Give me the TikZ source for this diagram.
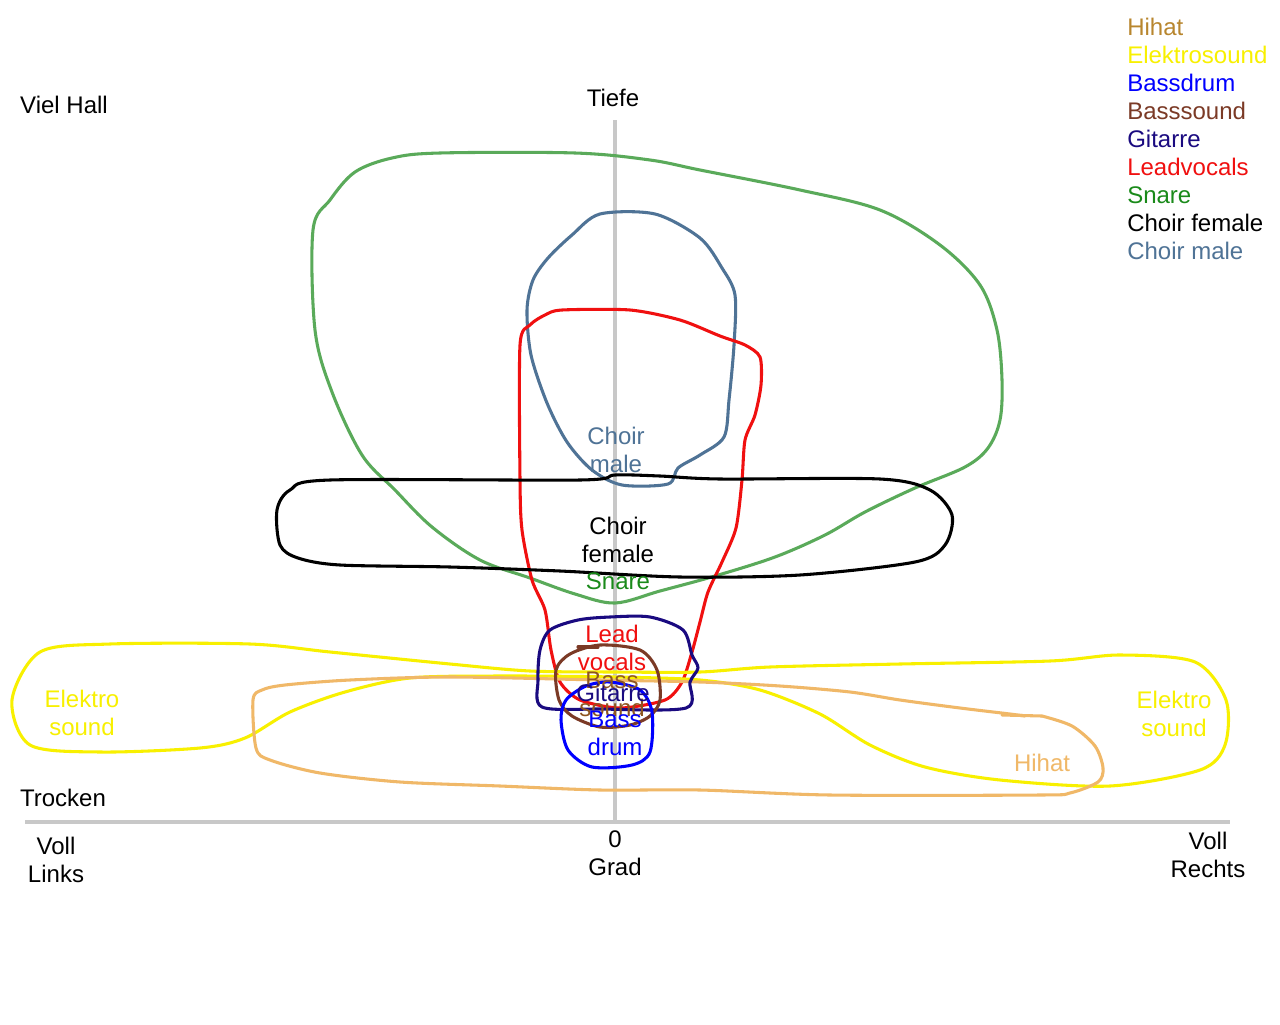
\documentclass[tikz,border=0pt]{standalone}
\usepackage{fontspec}
\setmainfont{Liberation Sans}
\definecolor{cHihat}{HTML}{B8862E}
\definecolor{cHihatL}{HTML}{F0B868}
\definecolor{cElektro}{HTML}{F8F000}
\definecolor{cBassdrum}{HTML}{0000FF}
\definecolor{cBasssound}{HTML}{7B3A26}
\definecolor{cGitarre}{HTML}{1A0A80}
\definecolor{cLead}{HTML}{F01010}
\definecolor{cSnare}{HTML}{1A8A1A}
\definecolor{cSnareL}{HTML}{5AAA5A}
\definecolor{cMale}{HTML}{4F7396}
\definecolor{cAxis}{HTML}{C8C8C8}
\begin{document}
\begin{tikzpicture}[x=0.75pt,y=-0.75pt,
  lbl/.style={inner sep=0pt,align=center,font=\fontsize{18}{21}\selectfont},
  leg/.style={inner sep=0pt,anchor=west,font=\fontsize{18}{21}\selectfont},
  blob/.style={line width=2.3pt,line join=round,line cap=round}]
\useasboundingbox[fill=white] (0,0) rectangle (1280,1024);
% axes
\draw[cAxis,line width=3pt] (615,120) -- (615,822);
\draw[cAxis,line width=3pt] (25,822) -- (1230,822);
% Snare (green)
\draw[blob,cSnareL] plot[smooth cycle,tension=0.55] coordinates {
 (440,153) (575,153) (650,160) (700,170) (800,190) (880,210) (940,245) (980,285)
 (997,330) (1002,380) (1000,420) (988,448) (965,467) (915,488) (865,512)
 (825,535) (775,557) (715,576) (660,591) (615,603) (575,594) (530,578)
 (480,560) (432,527) (395,490) (362,455) (332,392) (315,330) (313,230)
 (330,200) (355,172) (392,158)};
% Choir male
\draw[blob,cMale] plot[smooth cycle,tension=0.5] coordinates {
 (600,214) (655,214) (700,238) (722,268) (735,295) (734,345) (729,400)
 (724,437) (700,455) (678,468) (668,484) (622,485) (592,470) (567,442)
 (547,403) (531,355) (527,310) (533,280) (548,258) (572,235)};
% Leadvocals
\draw[blob,cLead] plot[smooth cycle,tension=0.45] coordinates {
 (562,310) (630,310) (680,320) (720,336) (745,345) (760,357) (761,385)
 (755,415) (745,440) (742,480) (736,528) (722,562) (708,592) (700,622)
 (692,652) (682,682) (665,700) (620,708) (580,700) (560,682) (551,650)
 (545,610) (532,580) (522,530) (520,480) (520,345) (530,325) (545,315)};
% Choir female
\draw[blob,black] plot[smooth cycle,tension=0.5] coordinates {
 (330,480) (580,480) (615,475) (660,476) (720,479) (880,479) (930,490)
 (952,515) (945,545) (915,562) (800,575) (680,577) (560,571) (450,567)
 (340,565) (298,558) (280,545) (277,510) (290,490)};
% Elektrosound (yellow)
\draw[blob,cElektro] plot[smooth cycle,tension=0.5] coordinates {
 (12,700) (40,652) (110,644) (250,644) (330,652) (450,664) (530,671)
 (615,672) (700,672) (770,667) (900,664) (1050,661) (1120,655) (1195,662)
 (1226,700) (1225,745) (1200,770) (1110,786) (1000,780) (925,767)
 (870,745) (820,714) (760,690) (700,680) (615,677) (500,676) (410,678)
 (345,692) (290,712) (245,738) (200,748) (100,752) (30,745)};
% Hihat
\draw[blob,cHihatL] plot[smooth,tension=0.5] coordinates {
 (1042,716) (1072,726) (1095,746) (1103,768) (1098,782) (1070,793)
 (1040,795) (830,795) (700,790) (600,790) (500,786) (400,782) (320,773)
 (270,760) (256,748) (253,700) (262,690) (285,685) (350,680) (450,677)
 (600,680) (700,682) (780,686) (850,692) (900,700) (960,708) (1010,714) (1025,716)};
\draw[blob,cHihatL] (1002,715) -- (1042,716);
% Gitarre
\draw[blob,cGitarre] plot[smooth cycle,tension=0.5] coordinates {
 (610,617) (650,617) (683,630) (692,655) (698,668) (690,682) (686,708)
 (600,709) (542,707) (538,680) (540,650) (550,630) (578,620)};
% Basssound
\draw[blob,cBasssound] plot[smooth cycle,tension=0.5] coordinates {
 (600,645) (640,650) (657,670) (660,700) (650,716) (630,725) (600,727)
 (572,716) (559,700) (556,670) (570,654)};
\draw[blob,cBasssound] (578,647) -- (598,647);
% Bassdrum
\draw[blob,cBassdrum] plot[smooth cycle,tension=0.5] coordinates {
 (610,682) (640,690) (652,712) (650,752) (632,765) (592,767) (568,750)
 (561,720) (566,700) (586,686)};
% axis labels
\node[lbl] (vielhall) at (64,105) {Viel Hall};
\node[lbl] (tiefe) at (613,98) {Tiefe};
\node[lbl] (trocken) at (63,798) {Trocken};
\node[lbl] (vl) at (56,860) {Voll\\Links};
\node[lbl] (grad) at (615,853) {0\\Grad};
\node[lbl] (vr) at (1208,855) {Voll\\Rechts};
% legend
\node[leg,cHihat] (l1) at (1127,27) {Hihat};
\node[leg,cElektro] (l2) at (1127,55) {Elektrosound};
\node[leg,cBassdrum] (l3) at (1127,83) {Bassdrum};
\node[leg,cBasssound] (l4) at (1127,111) {Basssound};
\node[leg,cGitarre] (l5) at (1127,139) {Gitarre};
\node[leg,cLead] (l6) at (1127,167) {Leadvocals};
\node[leg,cSnare] (l7) at (1127,195) {Snare};
\node[leg,black] (l8) at (1127,223) {Choir female};
\node[leg,cMale] (l9) at (1127,251) {Choir male};
% shape labels
\node[lbl,cMale] (tmale) at (616,450) {Choir\\male};
\node[lbl,black] (tfemale) at (618,540) {Choir\\female};
\node[lbl,cSnare] (tsnare) at (618,581) {Snare};
\node[lbl,cLead] (tlead) at (612,648) {Lead\\vocals};
\node[lbl,cBasssound!85!cElektro] (tbass) at (612,694) {Bass\\sound};
\node[lbl,cGitarre] (tgit) at (613,693) {Gitarre};
\node[lbl,cBassdrum] (tdrum) at (615,733) {Bass\\drum};
\node[lbl,cElektro] (tel) at (82,713) {Elektro\\sound};
\node[lbl,cElektro] (ter) at (1174,714) {Elektro\\sound};
\node[lbl,cHihatL] (thihat) at (1042,763) {Hihat};
\end{tikzpicture}
\end{document}
